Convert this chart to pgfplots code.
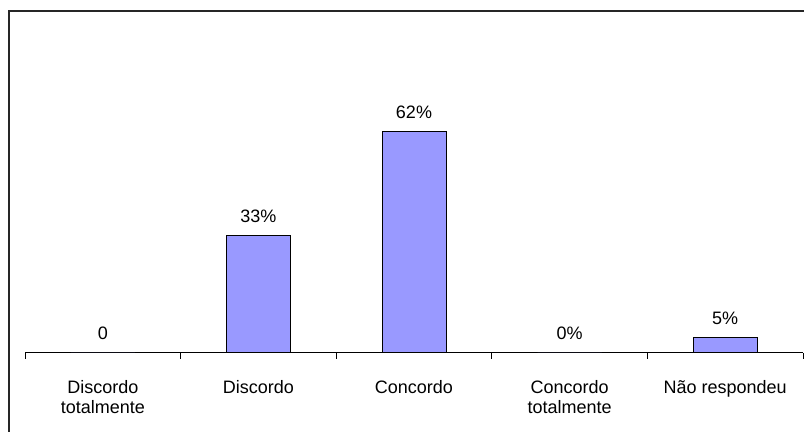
\documentclass[border=0pt]{standalone}
\usepackage{pgfplots}
\pgfplotsset{compat=1.18}
\usepackage{fontspec}
\setmainfont{Liberation Sans}
\definecolor{barblue}{HTML}{9999FF}
\begin{document}
\begin{tikzpicture}[x=0.75pt,y=0.75pt]
\useasboundingbox (0,0) rectangle (804,432);
\fill[white] (0,0) rectangle (804,432);
\draw[line width=1.2pt, black!85] (9,-10) rectangle (820,421);
\begin{axis}[
  at={(25*0.75pt,79*0.75pt)}, anchor=south west,
  scale only axis,
  width=583.5pt, height=187.5pt,
  xmin=-0.5, xmax=4.5, ymin=0, ymax=70,
  axis x line*=bottom, axis y line=none,
  axis line style={black, line width=0.75pt},
  ybar, bar width=48pt,
  xtick={0,1,2,3,4},
  xticklabels={{Discordo\\totalmente},Discordo,Concordo,{Concordo\\totalmente},Não respondeu},
  major tick length=0pt,
  minor xtick={-0.5,0.5,1.5,2.5,3.5,4.5},
  minor tick length=4.5pt,
  tick align=outside,
  minor tick style={black, line width=0.75pt},
  xticklabel style={align=center, font=\fontsize{13.5}{15}\selectfont, anchor=north, yshift=-17pt},
  point meta=explicit symbolic,
  nodes near coords,
  every node near coord/.append style={font=\fontsize{13.5}{15}\selectfont, anchor=south, yshift=6pt},
  clip=false,
]
\addplot[fill=barblue, draw=black, line width=0.75pt] coordinates {
  (0,0) [0]
  (1,33) [33\%]
  (2,62) [62\%]
  (3,0) [0\%]
  (4,4.2) [5\%]
};
\end{axis}
\end{tikzpicture}
\end{document}
